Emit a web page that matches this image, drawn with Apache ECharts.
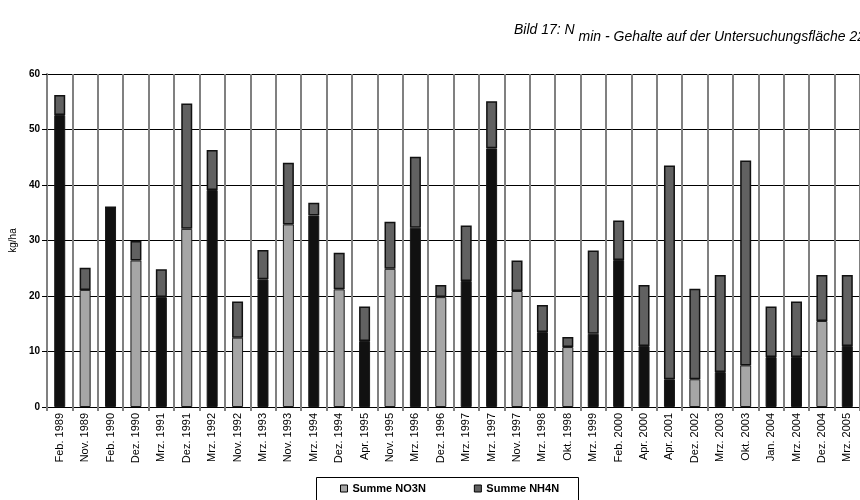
<!DOCTYPE html>
<html>
<head>
<meta charset="utf-8">
<script src="https://cdn.jsdelivr.net/npm/echarts@6/dist/echarts.min.js"></script>
<style>html,body{margin:0;padding:0;background:#fff}#c{width:860px;height:500px}</style>
</head>
<body>
<div id="c"></div>
<script>
const categories = ['Feb. 1989','Nov. 1989','Feb. 1990','Dez. 1990','Mrz. 1991','Dez. 1991','Mrz. 1992','Nov. 1992','Mrz. 1993','Nov. 1993','Mrz. 1994','Dez. 1994','Apr. 1995','Nov. 1995','Mrz. 1996','Dez. 1996','Mrz. 1997','Mrz. 1997','Nov. 1997','Mrz. 1998','Okt. 1998','Mrz. 1999','Feb. 2000','Apr. 2000','Apr. 2001','Dez. 2002','Mrz. 2003','Okt. 2003','Jan. 2004','Mrz. 2004','Dez. 2004','Mrz. 2005'];
const no3n = [52.6, 21.1, 36.0, 26.4, 19.8, 32.1, 39.1, 12.5, 23.0, 32.9, 34.5, 21.2, 11.9, 24.9, 32.3, 19.8, 22.7, 46.6, 20.9, 13.5, 10.8, 13.2, 26.5, 11.0, 5.0, 5.0, 6.3, 7.5, 9.0, 9.0, 15.5, 11.0];
const nh4n = [3.6, 4.0, 0, 3.5, 5.0, 22.6, 7.2, 6.5, 5.3, 11.1, 2.3, 6.6, 6.2, 8.5, 12.8, 2.2, 10.0, 8.5, 5.5, 4.9, 1.8, 15.0, 7.1, 11.0, 38.5, 16.3, 17.5, 36.9, 9.1, 10.0, 8.3, 12.8];
const yTicks = [0, 10, 20, 30, 40, 50, 60];

const FONT = "'Liberation Sans', Arial, sans-serif";
const GRAY = '#A6A6A6', BLACK = '#111111', DARK = '#616161';
const autumn = ['Okt.', 'Nov.', 'Dez.'];

const chart = echarts.init(document.getElementById('c'), null, {renderer: 'canvas'});
chart.setOption({
  animation: false,
  backgroundColor: '#fff',
  title: {
    left: 514, top: 23, padding: 0,
    text: '{a|Bild 17: N }{b|min - Gehalte auf der Untersuchungsfläche 22}',
    textStyle: {
      fontWeight: 'normal',
      rich: {
        a: {fontFamily: FONT, fontSize: 14, fontStyle: 'italic', fontWeight: 'normal', color: '#000', lineHeight: 14, verticalAlign: 'top'},
        b: {fontFamily: FONT, fontSize: 14, fontStyle: 'italic', fontWeight: 'normal', color: '#000', lineHeight: 28}
      }
    }
  },
  graphic: [{
    type: 'rect', silent: true,
    shape: {x: 316.5, y: 477.5, width: 262, height: 40},
    style: {fill: 'none', stroke: '#000', lineWidth: 1}
  }],
  legend: {
    left: 340, top: 483, padding: 0,
    itemWidth: 7, itemHeight: 7, itemGap: 48,
    icon: 'rect',
    itemStyle: {borderColor: '#000', borderWidth: 1},
    textStyle: {fontFamily: FONT, fontSize: 11, fontWeight: 'bold', color: '#000'},
    data: ['Summe NO3N', 'Summe NH4N']
  },
  grid: {left: 45, right: -1, top: 74, bottom: 93, containLabel: false},
  xAxis: {
    type: 'category', data: categories, boundaryGap: true,
    axisLine: {lineStyle: {color: '#000', width: 1}},
    axisTick: {show: true, interval: 0, length: 4, lineStyle: {color: '#808080', width: 2}},
    axisLabel: {interval: 0, rotate: 90, margin: 6, fontFamily: FONT, fontSize: 11, color: '#000'},
    splitLine: {show: true, interval: 0, lineStyle: {color: '#808080', width: 2}}
  },
  yAxis: {
    type: 'value', min: yTicks[0], max: yTicks[yTicks.length - 1], interval: 10,
    name: 'kg/ha', nameLocation: 'middle', nameRotate: 90, nameGap: 26,
    nameTextStyle: {fontFamily: FONT, fontSize: 10, color: '#000'},
    axisLine: {show: true, lineStyle: {color: '#808080', width: 2}},
    axisTick: {show: true, length: 5, lineStyle: {color: '#000', width: 1}},
    axisLabel: {margin: 7, fontFamily: FONT, fontSize: 10, fontWeight: 'bold', color: '#000'},
    splitLine: {show: true, lineStyle: {color: '#000', width: 1}}
  },
  series: [
    {
      name: 'Summe NO3N', type: 'bar', stack: 'n', barWidth: 11,
      itemStyle: {color: GRAY, borderColor: '#1a1a1a', borderWidth: 1},
      data: no3n.map((v, i) => ({
        value: v,
        itemStyle: {color: autumn.includes(categories[i].split(' ')[0]) ? GRAY : BLACK}
      }))
    },
    {
      name: 'Summe NH4N', type: 'bar', stack: 'n', barWidth: 11,
      itemStyle: {color: DARK, borderColor: '#111', borderWidth: 1.5},
      data: nh4n
    }
  ]
});
</script>
</body>
</html>
